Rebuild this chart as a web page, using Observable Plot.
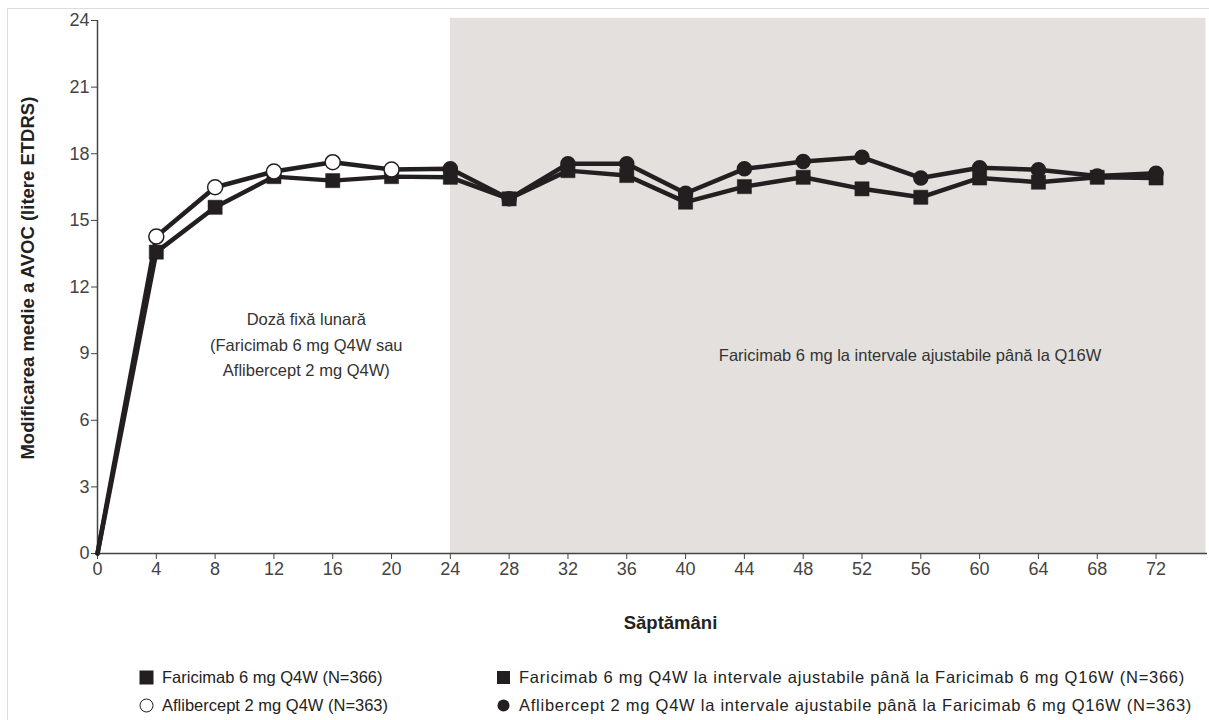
<!DOCTYPE html>
<html>
<head>
<meta charset="utf-8">
<script src="https://cdn.jsdelivr.net/npm/d3@7"></script>
<script src="https://cdn.jsdelivr.net/npm/@observablehq/plot@0.6"></script>
<style>
  body { margin: 0; background: #fff; font-family: "Liberation Sans", Arial, sans-serif; }
  #wrap { position: relative; width: 1209px; height: 720px; overflow: hidden; }
  #frame { position: absolute; left: 7px; top: 8px; width: 1300px; height: 800px; border-left: 1px solid #dcdcdc; border-top: 1px solid #dcdcdc; }
  #chart { position: absolute; left: 0; top: 0; }
  .legend { position: absolute; left: 0; top: 0; font-size: 16.5px; color: #222; }
  .item { position: absolute; white-space: nowrap; display: flex; align-items: center; }
  .item.wide span { letter-spacing: 0.75px; }
  .sw { display: inline-block; margin-right: 8px; }
</style>
</head>
<body>
<div id="wrap">
  <div id="frame"></div>
  <div id="chart"></div>
  <div class="legend" id="legend"></div>
</div>
<script>
const weeks = [0, 4, 8, 12, 16, 20, 24, 28, 32, 36, 40, 44, 48, 52, 56, 60, 64, 68, 72];
const faricimab = [0, 13.57, 15.59, 16.97, 16.79, 16.97, 16.94, 15.97, 17.24, 17.02, 15.82, 16.52, 16.94, 16.42, 16.04, 16.91, 16.72, 16.94, 16.91];
const aflibercept = [0, 14.27, 16.49, 17.2, 17.62, 17.29, 17.32, 15.97, 17.55, 17.55, 16.22, 17.32, 17.65, 17.84, 16.91, 17.37, 17.28, 17.0, 17.12];
const yTicks = [0, 3, 6, 9, 12, 15, 18, 21, 24];
const xTicks = [0, 4, 8, 12, 16, 20, 24, 28, 32, 36, 40, 44, 48, 52, 56, 60, 64, 68, 72];
const fixedPhaseEnd = 24;
const xMax = 75.5;
const shadeEnd = 75.4;
const yMax = 24;
const yLabel = "Modificarea medie a AVOC (litere ETDRS)";
const xLabel = "Săptămâni";
const fixedText = ["Doză fixă lunară", "(Faricimab 6 mg Q4W sau", "Aflibercept 2 mg Q4W)"];
const adjText = "Faricimab 6 mg la intervale ajustabile până la Q16W";
const legendItems = [
  "Faricimab 6 mg Q4W (N=366)",
  "Aflibercept 2 mg Q4W (N=363)",
  "Faricimab 6 mg Q4W la intervale ajustabile până la Faricimab 6 mg Q16W (N=366)",
  "Aflibercept 2 mg Q4W la intervale ajustabile până la Faricimab 6 mg Q16W (N=363)"
];

const ink = "#231f20";
const far = weeks.map((w, i) => ({week: w, value: faricimab[i]}));
const afl = weeks.map((w, i) => ({week: w, value: aflibercept[i]}));

const chart = Plot.plot({
  width: 1209,
  height: 650,
  marginLeft: 97,
  marginRight: 2,
  marginTop: 20,
  marginBottom: 97,
  style: {fontFamily: "'Liberation Sans', Arial, sans-serif", fontSize: "18px", color: "#444", background: "transparent"},
  x: {domain: [0, xMax]},
  y: {domain: [0, yMax]},
  marks: [
    Plot.rect([{a: fixedPhaseEnd, b: shadeEnd}], {x1: "a", x2: "b", y1: () => 0, y2: () => yMax + 0.1, fill: "#e3e0dd"}),
    Plot.axisY({ticks: yTicks, tickSize: 6, tickPadding: 2, label: null, fontSize: 18, fill: "#444", stroke: "#444"}),
    Plot.axisX({ticks: xTicks, tickSize: 6, tickPadding: 3, label: null, fontSize: 18, fill: "#444", stroke: "#444"}),
    Plot.ruleX([0], {stroke: "#444", strokeWidth: 1.5}),
    Plot.ruleY([0], {stroke: "#444", strokeWidth: 1.5}),
    Plot.text(fixedText, {x: () => 14.2, y: (d, i) => [10.52, 9.37, 8.22][i], text: d => d, fontSize: 16.5, fill: "#333"}),
    Plot.text([adjText], {x: () => 55.27, y: () => 8.9, text: d => d, fontSize: 16.5, fill: "#333"}),
    Plot.line(afl, {x: "week", y: "value", stroke: ink, strokeWidth: 4.5}),
    Plot.line(far, {x: "week", y: "value", stroke: ink, strokeWidth: 4.5}),
    Plot.dot(far.filter(d => d.week > 0), {x: "week", y: "value", symbol: "square", r: 8, fill: ink, stroke: ink, strokeWidth: 0.5}),
    Plot.dot(afl.filter(d => d.week > 0 && d.week < fixedPhaseEnd), {x: "week", y: "value", symbol: "circle", r: 7.5, fill: "white", stroke: ink, strokeWidth: 1.5}),
    Plot.dot(afl.filter(d => d.week >= fixedPhaseEnd), {x: "week", y: "value", symbol: "circle", r: 7, fill: ink, stroke: ink}),
    Plot.text([yLabel], {x: () => 0, y: () => 12.4, dx: -69, rotate: -90, textAnchor: "middle", text: d => d, fontSize: 18.5, fontWeight: "bold", fill: "#222"}),
    Plot.text([xLabel], {frameAnchor: "bottom", dx: 18, dy: 75, text: d => d, fontSize: 18.5, fontWeight: "bold", fill: "#222"})
  ]
});
document.getElementById("chart").appendChild(chart);

const lg = document.getElementById("legend");
const pos = [[139, 677], [139, 705], [496, 677], [496, 705]];
const swatch = [
  '<svg class="sw" width="15" height="15"><rect x="0.5" y="0.5" width="14" height="14" fill="' + ink + '"/></svg>',
  '<svg class="sw" width="15" height="15"><circle cx="7.5" cy="7.5" r="6.5" fill="white" stroke="' + ink + '" stroke-width="1"/></svg>',
  '<svg class="sw" width="15" height="15"><rect x="1" y="1" width="13" height="13" fill="' + ink + '"/></svg>',
  '<svg class="sw" width="15" height="15"><circle cx="7.5" cy="7.5" r="6" fill="' + ink + '"/></svg>'
];
legendItems.forEach((t, i) => {
  const d = document.createElement("div");
  d.className = "item" + (i >= 2 ? " wide" : "");
  d.style.left = pos[i][0] + "px";
  d.style.top = (pos[i][1] - 9) + "px";
  d.innerHTML = swatch[i] + '<span>' + t + '</span>';
  lg.appendChild(d);
});
</script>
</body>
</html>
